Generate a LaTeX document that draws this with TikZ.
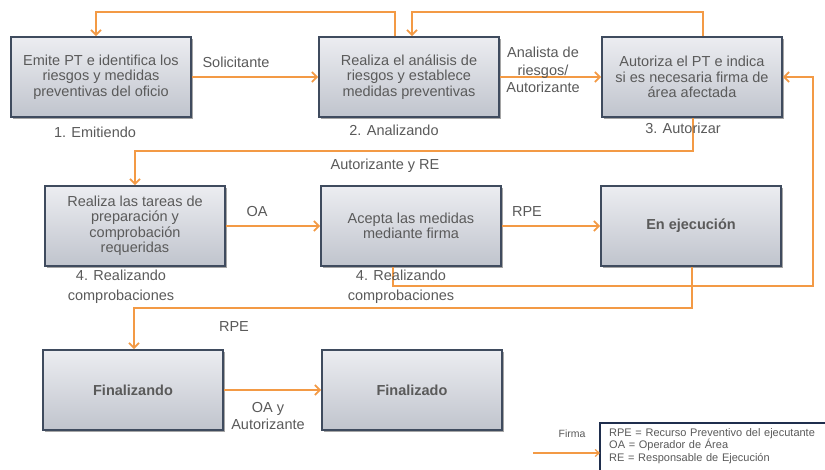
\documentclass[tikz,border=0pt]{standalone}
\usepackage{fontspec}
\setmainfont{Liberation Sans}
\usetikzlibrary{arrows.meta,shadows}
\definecolor{org}{HTML}{F39A45}
\definecolor{txt}{HTML}{5A5A5A}
\definecolor{bord}{HTML}{3F4B5E}
\definecolor{navy}{HTML}{1F2E4D}
\definecolor{boxtop}{HTML}{ECEDF1}
\definecolor{boxbot}{HTML}{C0C4CD}
\begin{document}
\begin{tikzpicture}[x=1pt,y=-1pt,
  box/.style={draw=bord, line width=1.6pt, top color=boxtop, bottom color=boxbot,
    minimum width=180pt, minimum height=80pt, align=center, text=txt,
    font=\fontsize{14.5}{15.5}\selectfont,
    drop shadow={shadow xshift=1.5pt, shadow yshift=-2pt, opacity=0.5, fill=black!70}},
  lbl/.style={text=txt, font=\fontsize{14.5}{17.5}\selectfont, align=center},
  arr/.style={draw=org, line width=1.8pt, -{Straight Barb[length=5pt,width=10pt]}}]
\useasboundingbox (0,0) rectangle (825,470);
\fill[white] (0,0) rectangle (825,470);

% boxes
\node[box] (b1) at (101,77) {Emite PT e identifica los\\riesgos y medidas\\preventivas del oficio};
\node[box] (b2) at (409,77) {Realiza el análisis de\\riesgos y establece\\medidas preventivas};
\node[box] (b3) at (692,77) {Autoriza el PT e indica\\si es necesaria firma de\\área afectada};
\node[box] (b4) at (135,226) {Realiza las tareas de\\preparación y\\comprobación\\requeridas};
\node[box] (b5) at (411,226) {Acepta las medidas\\mediante firma};
\node[box] (b6) at (691,226) {\bfseries En ejecución};
\node[box] (b7) at (133,390) {\bfseries Finalizando};
\node[box] (b8) at (412,390) {\bfseries Finalizado};

% routing points
\coordinate (t1) at (395,12);
\coordinate (t2) at (96,12);
\coordinate (t3) at (703,12);
\coordinate (t4) at (412,12);
\coordinate (c1) at (693,151);
\coordinate (c2) at (135,151);
\coordinate (f1) at (393,286);
\coordinate (f2) at (813,286);
\coordinate (d1) at (692,308);
\coordinate (d2) at (134,308);

% connectors
\draw[arr] (b1) -- (b2);
\draw[arr] (b2) -- (b3);
\draw[arr] (b2.north -| t1) -- (t1) -- (t2) -- (t2 |- b1.north);
\draw[arr] (b3.north -| t3) -- (t3) -- (t4) -- (t4 |- b2.north);
\draw[arr] (b3.south -| c1) -- (c1) -- (c2) -- (c2 |- b4.north);
\draw[arr] (b4) -- (b5);
\draw[arr] (b5) -- (b6);
\draw[arr] (b5.south -| f1) -- (f1) -- (f2) |- (b3.east);
\draw[arr] (b6.south -| d1) -- (d1) -- (d2) -- (d2 |- b7.north);
\draw[arr] (b7) -- (b8);

% edge labels
\node[lbl] (l1) at (236,62) {Solicitante};
\node[lbl] (l2) at (543,70) {Analista de\\riesgos/\\Autorizante};
\node[lbl] (l3) at (385,166) {Autorizante y RE};
\node[lbl] (l4) at (257,212) {OA};
\node[lbl] (l5) at (527,212) {RPE};
\node[lbl] (l6) at (234,327) {RPE};
\node[lbl] (l7) at (268,416) {OA y\\Autorizante};

% phase labels
\node[lbl] (p1) at (95,132) {1. Emitiendo};
\node[lbl] (p2) at (394,130) {2. Analizando};
\node[lbl] (p3) at (683,128) {3. Autorizar};
\node[lbl, font=\fontsize{14.5}{19.5}\selectfont] (p4) at (121,287) {4. Realizando\\comprobaciones};
\node[lbl, font=\fontsize{14.5}{19.5}\selectfont] (p5) at (401,287) {4. Realizando\\comprobaciones};

% legend
\node[text=txt, font=\fontsize{10.5}{12}\selectfont] (fl) at (572,434) {Firma};
\coordinate (fa) at (533,453);
\node[anchor=north west, align=left, text width=230pt,
  inner xsep=9pt, inner ysep=5pt, text=txt, font=\fontsize{11}{12.5}\selectfont]
  (leg) at (600,423) {RPE = Recurso Preventivo del ejecutante\\OA = Operador de Área\\RE = Responsable de Ejecución};
\draw[navy, line width=2.5pt] (leg.north west) rectangle ([yshift=-20pt]leg.south east);
\draw[draw=org, line width=1.2pt, -{Straight Barb[length=4pt,width=7pt]}] (fa) -- (fa -| leg.west);
\end{tikzpicture}
\end{document}
